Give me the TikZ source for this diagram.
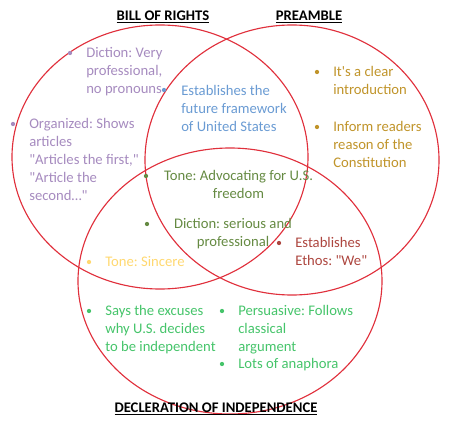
\documentclass[tikz,border=0pt]{standalone}
\usepackage{fontspec}
\setmainfont{Carlito}
\usepackage{tikz}
\usetikzlibrary{positioning}
\frenchspacing
\definecolor{vennred}{HTML}{E0303C}
\definecolor{borpurple}{HTML}{A68BBF}
\definecolor{sharedblue}{HTML}{6A9BD3}
\definecolor{pregold}{HTML}{C0942A}
\definecolor{tonegreen}{HTML}{658A42}
\definecolor{ethosred}{HTML}{AD463F}
\definecolor{sinceregold}{HTML}{FFD870}
\definecolor{decgreen}{HTML}{45C46A}
% first line carries the baseline
\newcommand{\leftlines}[1]{\begin{tabular}[t]{@{}l@{}}#1\end{tabular}}
\newcommand{\midlines}[1]{\begin{tabular}[t]{@{}c@{}}#1\end{tabular}}
\newcommand{\q}{\textquotedbl}
\tikzstyle{setring} = [draw=vennred, line width=0.85pt]
\tikzstyle{point} = [inner sep=0pt, anchor=base west,
  font=\fontsize{11}{13.5}\selectfont]
\tikzstyle{midpoint} = [point, anchor=base]
\tikzstyle{bullet} = [circle, inner sep=0pt, minimum size=3.2pt]
\tikzstyle{heading} = [inner sep=0pt, anchor=base,
  font=\fontsize{11}{13.5}\selectfont\bfseries]

\begin{document}
\begin{tikzpicture}[x=0.75pt, y=-0.75pt]
  \useasboundingbox (0,0) rectangle (474,431);

  % the three sets
  \draw[setring] (160,157) ellipse [x radius=148, y radius=132];
  \draw[setring] (292,160) ellipse [x radius=147, y radius=135];
  \draw[setring] (230,281) ellipse [x radius=152, y radius=133];

  \node[heading] (bor) at (163,20.5) {\underline{BILL OF RIGHTS}};
  \node[heading] (pre) at (309,20.5) {\underline{PREAMBLE}};
  \node[heading] (doi) at (216,412.5) {\underline{DECLERATION OF INDEPENDENCE}};

  % Bill of Rights only
  \node[bullet, fill=borpurple] (dictionDot) at (70,53) {};
  \node[point, text=borpurple] (diction) at (86,57.5) {\leftlines{Diction: Very\\professional,\\no pronouns}};
  \node[bullet, fill=borpurple] (organizedDot) at (13,124) {};
  \node[point, text=borpurple] (organized) at (29,128.5) {\leftlines{Organized: Shows\\articles\\\q Articles the first,\q\\\q Article the\\second…\q}};

  % Bill of Rights and Preamble
  \node[bullet, fill=sharedblue] (frameDot) at (164,90) {};
  \node[point, text=sharedblue] (frame) at (181,95.5) {\leftlines{Establishes the\\future framework\\of United States}};

  % Preamble only
  \node[bullet, fill=pregold] (clearDot) at (317,72) {};
  \node[point, text=pregold] (clear) at (333,76.5) {\leftlines{It\textquotesingle s a clear\\introduction}};
  \node[bullet, fill=pregold] (informDot) at (317,127) {};
  \node[point, text=pregold] (inform) at (333,131.5) {\leftlines{Inform readers\\reason of the\\Constitution}};

  % all three
  \node[bullet, fill=tonegreen] (advocDot) at (146,176) {};
  \node[midpoint, text=tonegreen] (advoc) at (238.5,180.5) {\midlines{Tone: Advocating for U.S.\\freedom}};
  \node[bullet, fill=tonegreen] (seriousDot) at (147,224) {};
  \node[midpoint, text=tonegreen] (serious) at (233,228.5) {\midlines{Diction: serious and\\professional}};

  % Preamble and Declaration
  \node[bullet, fill=ethosred] (ethosDot) at (279,243) {};
  \node[point, text=ethosred] (ethos) at (295,247.5) {\leftlines{Establishes\\Ethos: \q We\q}};

  % Bill of Rights and Declaration
  \node[bullet, fill=sinceregold] (sincereDot) at (89,262) {};
  \node[point, text=sinceregold] (sincere) at (105,266.5) {Tone: Sincere};

  % Declaration only
  \node[bullet, fill=decgreen] (excuseDot) at (89,311) {};
  \node[point, text=decgreen] (excuse) at (105,315.5) {\leftlines{Says the excuses\\why U.S. decides\\to be independent}};
  \node[bullet, fill=decgreen] (persuadeDot) at (222,311) {};
  \node[point, text=decgreen] (persuade) at (238,315.5) {\leftlines{Persuasive: Follows\\classical\\argument}};
  \node[bullet, fill=decgreen] (anaphoraDot) at (222,364) {};
  \node[point, text=decgreen] (anaphora) at (238,368.5) {Lots of anaphora};

\end{tikzpicture}
\end{document}
